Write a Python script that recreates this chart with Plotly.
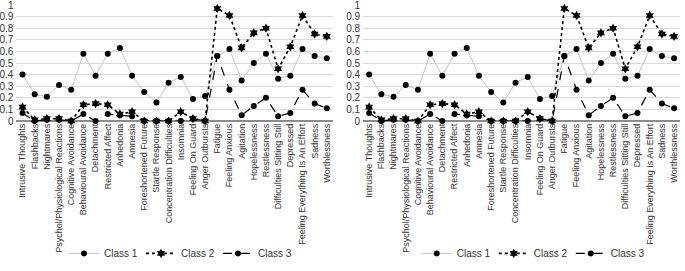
import plotly.graph_objects as go

categories = ["Intrusive Thoughts", "Flashbacks", "Nightmares", "Psychol/Physiological Reactions",
              "Cognitive Avoidance", "Behavioural Avoidance", "Detachment", "Restricted Affect",
              "Anhedonia", "Amnesia", "Foreshortened Future", "Startle Response",
              "Concentration Difficulties", "Insomnia", "Feeling On Guard", "Anger Outbursts",
              "Fatigue", "Feeling Anxious", "Agitation", "Hopelessness", "Restlessness",
              "Difficulties Sitting Still", "Depressed", "Feeling Everything Is An Effort",
              "Sadness", "Worthlessness"]

class1 = [0.40, 0.23, 0.21, 0.31, 0.27, 0.58, 0.39, 0.58, 0.63, 0.39, 0.25, 0.16, 0.33,
          0.38, 0.19, 0.215, 0.56, 0.62, 0.35, 0.50, 0.58, 0.365, 0.39, 0.62, 0.56, 0.54]
class2 = [0.12, 0.01, 0.02, 0.02, 0.00, 0.14, 0.15, 0.14, 0.06, 0.08, 0.00, 0.00, 0.00,
          0.08, 0.02, 0.00, 0.97, 0.91, 0.63, 0.76, 0.80, 0.45, 0.64, 0.91, 0.75, 0.73]
class3 = [0.07, 0.00, 0.01, 0.01, 0.00, 0.06, 0.00, 0.06, 0.05, 0.04, 0.00, 0.00, 0.00,
          0.00, 0.02, 0.00, 0.56, 0.27, 0.05, 0.13, 0.20, 0.04, 0.07, 0.27, 0.15, 0.11]

series_names = ["Class 1", "Class 2", "Class 3"]
yticks = [0, 0.1, 0.2, 0.3, 0.4, 0.5, 0.6, 0.7, 0.8, 0.9, 1]
ytick_text = ["0", "0.1", "0.2", "0.3", "0.4", "0.5", "0.6", "0.7", "0.8", "0.9", "1"]

styles = [
    dict(line=dict(color="#c4c4c4", width=1, dash="solid"),
         marker=dict(symbol="circle", size=6, color="black")),
    dict(line=dict(color="black", width=1.6, dash="dot"),
         marker=dict(symbol="hexagram", size=7, color="black")),
    dict(line=dict(color="black", width=1.2, dash="dash"),
         marker=dict(symbol="circle", size=6, color="black")),
]

fig = go.Figure()
for panel in range(2):
    xa = "x" if panel == 0 else "x2"
    ya = "y" if panel == 0 else "y2"
    lg = "legend" if panel == 0 else "legend2"
    for name, vals, st in zip(series_names, [class1, class2, class3], styles):
        fig.add_trace(go.Scatter(
            x=categories, y=vals, name=name, mode="lines+markers",
            line=st["line"], marker=st["marker"], xaxis=xa, yaxis=ya,
            legend=lg, cliponaxis=False))

font = dict(family="Liberation Sans, Arial, sans-serif", size=9, color="#333333")
xcommon = dict(type="category", range=[-0.5, 25.5], tickangle=-90, tickfont=font,
               showgrid=False, showline=False, ticks="", zeroline=False,
               automargin=False, fixedrange=True)
ycommon = dict(range=[0, 1], tickvals=yticks, ticktext=ytick_text, tickfont=dict(
    family="Liberation Sans, Arial, sans-serif", size=10, color="#333333"),
    showgrid=True, gridcolor="#d9d9d9", gridwidth=1, zeroline=True,
    zerolinecolor="#8c8c8c", zerolinewidth=1.5, showline=False, ticks="",
    automargin=False, ticklabelstandoff=2, ticklabeloverflow="allow", fixedrange=True)

legfont = dict(family="Liberation Sans, Arial, sans-serif", size=10, color="#333333")
fig.update_layout(
    width=685, height=271,
    margin=dict(l=0, r=0, t=0, b=0),
    paper_bgcolor="white", plot_bgcolor="white",
    font=font,
    xaxis=dict(domain=[0.024, 0.486], anchor="y", **xcommon),
    yaxis=dict(domain=[0.5535, 0.9815], anchor="x", **ycommon),
    xaxis2=dict(domain=[0.530, 0.993], anchor="y2", **xcommon),
    yaxis2=dict(domain=[0.5535, 0.9815], anchor="x2", **ycommon),
    legend=dict(orientation="h", x=0.262, xanchor="center", y=0.065, yanchor="middle",
                font=legfont, entrywidth=32, entrywidthmode="pixels",
                bgcolor="rgba(0,0,0,0)"),
    legend2=dict(orientation="h", x=0.777, xanchor="center", y=0.065, yanchor="middle",
                 font=legfont, entrywidth=32, entrywidthmode="pixels",
                 bgcolor="rgba(0,0,0,0)"),
    showlegend=True,
)

fig.write_html("out.html", config={"displayModeBar": False},
               post_script="document.body.style.margin='0';document.body.style.overflow='hidden';")
